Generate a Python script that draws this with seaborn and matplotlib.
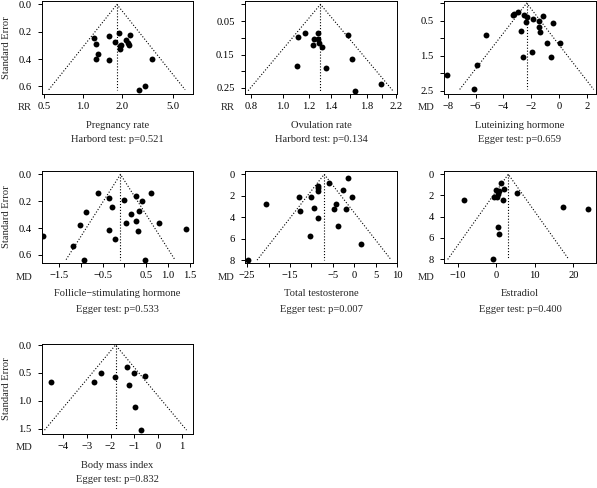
import numpy as np
import pandas as pd
import matplotlib
matplotlib.use("Agg")
import matplotlib.pyplot as plt
import seaborn as sns
from matplotlib.ticker import FixedLocator, FixedFormatter, NullLocator

sns.set_style("ticks")
plt.rcParams['font.family'] = ['Liberation Serif', 'DejaVu Serif']
plt.rcParams['font.size'] = 7.6

# -----------------------------
# DATA (effect, standard error)
# -----------------------------
preg_rr = [1.21, 1.27, 1.31, 1.27, 1.59, 1.61, 1.77, 1.92, 1.96, 1.99, 1.93,
           2.32, 2.17, 2.23, 2.27, 3.46, 3.07, 2.74]
preg_se = [0.244, 0.288, 0.361, 0.398, 0.232, 0.41, 0.276, 0.207, 0.324, 0.30,
           0.307, 0.22, 0.259, 0.283, 0.295, 0.398, 0.593, 0.624]
preg_center = 1.84

ovu_rr = [1.114, 1.17, 1.24, 1.23, 1.28, 1.28, 1.29, 1.31, 1.58, 1.10, 1.35,
          1.62, 1.98, 1.65]
ovu_se = [0.097, 0.086, 0.105, 0.123, 0.087, 0.105, 0.115, 0.128, 0.093, 0.183,
          0.19, 0.162, 0.238, 0.258]
ovu_center = 1.30

lh_md = [-8.07, -6.1, -5.9, -5.28, -3.31, -3.2, -2.94, -2.74, -2.52, -2.32,
         -2.37, -1.83, -1.46, -1.41, -1.33, -1.16, -0.4, -0.84, 0.07, -1.95,
         -2.57, -0.6]
lh_se = [2.04, 2.46, 1.76, 0.90, 0.34, 0.32, 0.24, 0.79, 0.34, 0.39, 0.55, 0.46,
         0.50, 0.67, 0.81, 0.36, 0.58, 1.15, 1.15, 1.39, 1.53, 1.53]
lh_center = -2.32

fsh_md = [-1.86, -1.18, -1.02, -0.885, -0.92, -0.6, -0.346, -0.285, -0.346,
          -0.215, -0.015, 0.04, 0.154, 0.254, 0.27, 0.33, 0.31, 0.4, 0.6, 0.785,
          0.46, 1.41]
fsh_se = [0.457, 0.53, 0.375, 0.28, 0.635, 0.136, 0.173, 0.24, 0.415, 0.479,
          0.19, 0.363, 0.294, 0.163, 0.35, 0.27, 0.425, 0.2, 0.14, 0.36, 0.635,
          0.407]
fsh_center = -0.09

tt_md = [-24.8, -20.6, -12.9, -12.6, -10.1, -9.5, -8.4, -8.4, -8.5, -8.4,
         -10.3, -5.8, -4.3, -4.6, -3.7, -2.5, -1.8, -1.4, -0.6, 1.5]
tt_se = [8.0, 2.8, 2.09, 3.43, 2.09, 3.12, 1.06, 1.31, 1.53, 4.11, 5.73, 0.84,
         2.74, 3.24, 4.8, 1.46, 3.24, 0.37, 2.15, 6.51]
tt_center = -7.0

e2_md = [1.1, 0.0, 0.7, 2.0, -0.6, 0.3, 0.4, 1.7, 5.3, -8.5, 17.2, 23.7, 0.4,
         0.6, -0.8]
e2_se = [0.84, 1.47, 1.53, 1.4, 2.19, 2.19, 1.9, 2.44, 1.78, 2.47, 3.06, 3.25,
         4.97, 5.6, 8.03]
e2_center = 3.1

bmi_md = [-4.5, -2.69, -2.42, -1.82, -1.31, -1.24, -1.03, -0.54, -0.99, -0.71]
bmi_se = [0.655, 0.655, 0.506, 0.577, 0.40, 0.714, 0.494, 0.554, 1.11, 1.52]
bmi_center = -1.79

outcomes = ["Pregnancy rate", "Ovulation rate", "Luteinizing hormone",
            "Follicle\u2212stimulating hormone", "Total testosterone",
            "Estradiol", "Body mass index"]
tests = ["Harbord test: p=0.521", "Harbord test: p=0.134", "Egger test: p=0.659",
         "Egger test: p=0.533", "Egger test: p=0.007", "Egger test: p=0.400",
         "Egger test: p=0.832"]
measures = ["RR", "RR", "MD", "MD", "MD", "MD", "MD"]

# -----------------------------
# PANEL SETTINGS
# -----------------------------
W, H = 597, 488
cols = [(42, 193), (245, 397), (444, 596)]
rows = [(1, 94), (171, 263), (344, 434)]

def rect(c, r):
    x0, x1 = cols[c]
    y0, y1 = rows[r]
    return [x0 / W, 1 - y1 / H, (x1 - x0) / W, (y1 - y0) / H]

def lab(v):
    return [("%g" % t).replace("-", "\u2212") for t in v]

panels = [
    dict(x=preg_rr, se=preg_se, c=preg_center, log=True, pos=(0, 0),
         xlim=(0.48, 7.2), ylim=(0.655, -0.025),
         xt=[0.5, 1, 2, 5], xl=["0.5", "1.0", "2.0", "5.0"],
         yt=[0, 0.2, 0.4, 0.6], yl=["0.0", "0.2", "0.4", "0.6"]),
    dict(x=ovu_rr, se=ovu_se, c=ovu_center, log=True, pos=(1, 0),
         xlim=(0.767, 2.22), ylim=(0.268, -0.010),
         xt=[0.8, 1.0, 1.2, 1.4, 1.6, 1.8, 2.0, 2.2],
         xl=["0.8", "1.0", "1.2", "1.4", "", "1.8", "", "2.2"],
         yt=[0, 0.05, 0.10, 0.15, 0.20, 0.25],
         yl=["", "0.05", "", "0.15", "", "0.25"]),
    dict(x=lh_md, se=lh_se, c=lh_center, log=False, pos=(2, 0),
         xlim=(-8.27, 2.67), ylim=(2.59, -0.06),
         xt=[-8, -6, -4, -2, 0, 2], xl=lab([-8, -6, -4, -2, 0, 2]),
         yt=[0, 0.5, 1.0, 1.5, 2.0, 2.5], yl=["", "0.5", "", "1.5", "", "2.5"]),
    dict(x=fsh_md, se=fsh_se, c=fsh_center, log=False, pos=(0, 1),
         xlim=(-1.886, 1.57), ylim=(0.66, -0.025),
         xt=[-1.5, -1, -0.5, 0, 0.5, 1, 1.5],
         xl=["\u22121.5", "", "\u22120.5", "", "0.5", "1.0", "1.5"],
         yt=[0, 0.2, 0.4, 0.6], yl=["0.0", "0.2", "0.4", "0.6"]),
    dict(x=tt_md, se=tt_se, c=tt_center, log=False, pos=(1, 1),
         xlim=(-25.5, 10.0), ylim=(8.27, -0.31),
         xt=[-25, -20, -15, -10, -5, 0, 5, 10],
         xl=["\u221225", "", "\u221215", "", "\u22125", "0", "5", "10"],
         yt=[0, 2, 4, 6, 8], yl=["0", "2", "4", "6", "8"]),
    dict(x=e2_md, se=e2_se, c=e2_center, log=False, pos=(2, 1),
         xlim=(-13.6, 25.9), ylim=(8.37, -0.31),
         xt=[-10, 0, 10, 20], xl=lab([-10, 0, 10, 20]),
         yt=[0, 2, 4, 6, 8], yl=["0", "2", "4", "6", "8"]),
    dict(x=bmi_md, se=bmi_se, c=bmi_center, log=False, pos=(0, 2),
         xlim=(-4.875, 1.46), ylim=(1.59, -0.018),
         xt=[-4, -3, -2, -1, 0, 1], xl=lab([-4, -3, -2, -1, 0, 1]),
         yt=[0, 0.5, 1.0, 1.5], yl=["0.0", "0.5", "1.0", "1.5"]),
]

PX = 0.72  # points per pixel at 100 dpi

fig = plt.figure(figsize=(W / 100, H / 100), dpi=100)

for i, p in enumerate(panels):
    ax = fig.add_axes(rect(*p["pos"]))
    df = pd.DataFrame({"effect": p["x"], "se": p["se"]})
    smax = max(p["se"])
    c = p["c"]
    if p["log"]:
        lo, hi = c * np.exp(-1.96 * smax), c * np.exp(1.96 * smax)
    else:
        lo, hi = c - 1.96 * smax, c + 1.96 * smax
    ax.plot([lo, c, hi], [smax, 0, smax], ls=":", color="black", lw=0.8)
    ax.plot([c, c], [0, smax], ls=":", color="black", lw=0.8)
    sns.scatterplot(data=df, x="effect", y="se", ax=ax, color="black",
                    s=18, linewidth=0, zorder=3)
    if p["log"]:
        ax.set_xscale("log")
    ax.set_xlim(*p["xlim"])
    ax.set_ylim(*p["ylim"])
    ax.xaxis.set_major_locator(FixedLocator(p["xt"]))
    ax.xaxis.set_major_formatter(FixedFormatter(p["xl"]))
    ax.xaxis.set_minor_locator(NullLocator())
    ax.yaxis.set_major_locator(FixedLocator(p["yt"]))
    ax.yaxis.set_major_formatter(FixedFormatter(p["yl"]))
    ax.tick_params(direction="out", length=3, width=0.7, color="black",
                   labelsize=7.6, labelcolor="black")
    ax.tick_params(axis="x", pad=2.5)
    ax.tick_params(axis="y", pad=4.5)
    for s in ax.spines.values():
        s.set_visible(True)
        s.set_linewidth(0.7)
        s.set_color("black")
    ax.set_xlabel("")
    ax.set_ylabel("")

    ax.annotate(measures[i], xy=(0, 0), xycoords="axes fraction",
                xytext=(-10 * PX, -14 * PX), textcoords="offset points",
                ha="right", va="center", fontsize=7.6)
    ax.annotate(outcomes[i], xy=(0.5, 0), xycoords="axes fraction",
                xytext=(0, -31 * PX), textcoords="offset points",
                ha="center", va="center", fontsize=7.6)
    ax.annotate(tests[i], xy=(0.5, 0), xycoords="axes fraction",
                xytext=(0, -46 * PX), textcoords="offset points",
                ha="center", va="center", fontsize=7.6)
    if p["pos"][0] == 0:
        ax.annotate("Standard Error", xy=(0, 0.5), xycoords="axes fraction",
                    xytext=(-35 * PX, 0), textcoords="offset points",
                    ha="center", va="center", rotation=90, fontsize=7.6)

fig.savefig("out.png", dpi=100)
